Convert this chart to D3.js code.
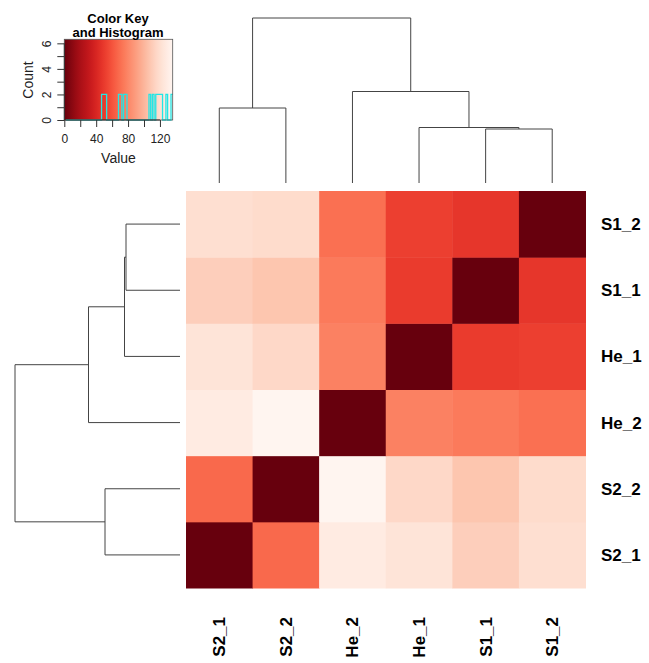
<!DOCTYPE html>
<html lang="en">
  <head>
    <meta charset="UTF-8" />
    <title>heatmap</title>
    <script src="https://d3js.org/d3.v7.min.js"></script>
    <style>
      body { margin: 0; background: #fff; }
      text { font-family: "Liberation Sans", Arial, sans-serif; }
    </style>
  </head>
  <body>
    <svg width="649" height="663"></svg>
    <script>
      // sample order as shown along the columns (rows are the reverse)
      const samples = ["S2_1", "S2_2", "He_2", "He_1", "S1_1", "S1_2"];
      const rowOrder = samples.slice().reverse();

      // distance matrix, same order as samples
      const values = [
        [0, 68, 128, 123, 111, 120],
        [68, 0, 136, 116, 107, 118],
        [128, 136, 0, 78, 75, 71],
        [123, 116, 78, 0, 50, 52],
        [111, 107, 75, 50, 0, 48],
        [120, 118, 71, 52, 48, 0]
      ];

      // hclust result: merge heights
      const clusterTree = {
        h: 165,
        children: [
          { h: 75, children: [{ name: "S2_1" }, { name: "S2_2" }] },
          {
            h: 91.5,
            children: [
              { name: "He_2" },
              {
                h: 55.5,
                children: [
                  { name: "He_1" },
                  { h: 54, children: [{ name: "S1_1" }, { name: "S1_2" }] }
                ]
              }
            ]
          }
        ]
      };

      const keyTicks = [0, 20, 40, 60, 80, 100, 120];
      const keyLabels = [0, 40, 80, 120];
      const countLabels = [0, 2, 4, 6];

      const svg = d3.select("svg");
      const allVals = values.flat();
      const vMax = d3.max(allVals);

      const color = d3.scaleSequential(d3.interpolateReds).domain([vMax, 0]);

      // heatmap
      const x = d3.scaleBand().domain(samples).range([186, 585.5]);
      const y = d3.scaleBand().domain(rowOrder).range([191, 588]);

      const cells = [];
      samples.forEach((r, i) =>
        samples.forEach((c, j) => cells.push({ row: r, col: c, v: values[i][j] }))
      );

      svg.append("g")
        .selectAll("rect")
        .data(cells)
        .enter()
        .append("rect")
        .attr("x", d => x(d.col))
        .attr("y", d => y(d.row))
        .attr("width", x.bandwidth() + 0.5)
        .attr("height", y.bandwidth() + 0.5)
        .attr("fill", d => color(d.v));

      // labels
      svg.append("g")
        .selectAll("text")
        .data(rowOrder)
        .enter()
        .append("text")
        .attr("x", 601)
        .attr("y", d => y(d) + y.bandwidth() / 2)
        .attr("dy", "0.35em")
        .attr("font-size", 17)
        .attr("font-weight", "bold")
        .text(d => d);

      svg.append("g")
        .selectAll("text")
        .data(samples)
        .enter()
        .append("text")
        .attr("transform", d => `translate(${x(d) + x.bandwidth() / 2},617) rotate(-90)`)
        .attr("dy", "0.35em")
        .attr("text-anchor", "end")
        .attr("font-size", 17)
        .attr("font-weight", "bold")
        .text(d => d);

      // dendrograms
      const root = d3.hierarchy(clusterTree);
      const leafH = 0;

      function drawDendro(posScale, hScale, vertical) {
        const pos = new Map();
        root.eachAfter(n => {
          if (!n.children) pos.set(n, posScale(n.data.name) + posScale.bandwidth() / 2);
          else pos.set(n, d3.mean(n.children, c => pos.get(c)));
        });
        const p = d3.path();
        // vertical: top dendrogram (height on y), otherwise left one (height on x)
        const moveTo = (a, h) => vertical ? p.moveTo(a, hScale(h)) : p.moveTo(hScale(h), a);
        const lineTo = (a, h) => vertical ? p.lineTo(a, hScale(h)) : p.lineTo(hScale(h), a);
        root.each(n => {
          if (!n.children) return;
          const a = pos.get(n.children[0]);
          const b = pos.get(n.children[1]);
          const ha = n.children[0].data.h || leafH;
          const hb = n.children[1].data.h || leafH;
          moveTo(a, ha);
          lineTo(a, n.data.h);
          lineTo(b, n.data.h);
          lineTo(b, hb);
        });
        svg.append("path")
          .attr("d", p.toString())
          .attr("fill", "none")
          .attr("stroke", "#444")
          .attr("stroke-width", 1);
      }

      const hTop = d3.scaleLinear().domain([0, clusterTree.h]).range([183, 18]);
      const hLeft = d3.scaleLinear().domain([0, clusterTree.h]).range([180, 15]);
      drawDendro(x, hTop, true);
      drawDendro(y, hLeft, false);

      // color key + histogram
      const kx = d3.scaleLinear().domain([0, vMax]).range([64.3, 172.7]);
      const kTop = 39.3, kBot = 120;
      const key = svg.append("g");

      const grad = svg.append("defs").append("linearGradient").attr("id", "keygrad");
      grad.selectAll("stop")
        .data(d3.range(0, 1.0001, 0.05))
        .enter()
        .append("stop")
        .attr("offset", d => d)
        .attr("stop-color", d => color(d * vMax));
      key.append("rect")
        .attr("x", kx(0))
        .attr("y", kTop)
        .attr("width", kx(vMax) - kx(0))
        .attr("height", kBot - kTop)
        .attr("fill", "url(#keygrad)");

      const bins = d3.bin()
        .domain([0, vMax])
        .thresholds(d3.range(0, vMax, vMax / 64))(allVals);
      const maxCount = d3.max(bins, b => b.length);
      const ky = d3.scaleLinear().domain([0, maxCount / 0.95]).range([kBot, kTop]);

      // step line, first bin (diagonal) left out as in the picture
      const hp = d3.path();
      bins.slice(1).forEach((b, i) => {
        if (i === 0) hp.moveTo(kx(b.x0), ky(0));
        hp.lineTo(kx(b.x0), ky(b.length));
        hp.lineTo(kx(b.x1), ky(b.length));
      });
      key.append("path")
        .attr("d", hp.toString())
        .attr("fill", "none")
        .attr("stroke", "#22e6e6")
        .attr("stroke-width", 1.3);

      key.append("rect")
        .attr("x", kx(0))
        .attr("y", kTop)
        .attr("width", kx(vMax) - kx(0))
        .attr("height", kBot - kTop)
        .attr("fill", "none")
        .attr("stroke", "#555")
        .attr("stroke-width", 0.8);

      const xAxis = d3.axisBottom(kx)
        .tickValues(keyTicks)
        .tickSize(7)
        .tickFormat(d => (keyLabels.includes(d) ? d : ""));
      const gx = key.append("g").attr("transform", `translate(0,${kBot})`).call(xAxis);
      gx.select(".domain").attr("d", `M${kx(0)},0H${kx(120)}`);
      gx.selectAll("text").attr("font-size", 12).attr("fill", "#222").attr("dy", "1.1em");
      gx.selectAll("line, .domain").attr("stroke", "#333");

      const yAxis = d3.axisLeft(ky)
        .tickValues(d3.range(0, maxCount + 1))
        .tickSize(7)
        .tickFormat(d => (countLabels.includes(d) ? d : ""));
      const gy = key.append("g").attr("transform", `translate(${kx(0)},0)`).call(yAxis);
      gy.select(".domain").attr("d", `M0,${ky(0)}V${ky(maxCount)}`);
      gy.selectAll("line, .domain").attr("stroke", "#333");
      gy.selectAll("text")
        .attr("font-size", 12)
        .attr("fill", "#222")
        .attr("x", null)
        .attr("y", null)
        .attr("dy", null)
        .attr("text-anchor", "middle")
        .attr("transform", "translate(-13,0) rotate(-90)");

      key.append("text")
        .attr("x", 118.5).attr("y", 163)
        .attr("text-anchor", "middle")
        .attr("font-size", 14)
        .attr("fill", "#222")
        .text("Value");
      key.append("text")
        .attr("transform", "translate(33,80) rotate(-90)")
        .attr("text-anchor", "middle")
        .attr("font-size", 14)
        .attr("fill", "#222")
        .text("Count");
      key.append("text")
        .attr("x", 118).attr("y", 23)
        .attr("text-anchor", "middle")
        .attr("font-size", 13)
        .attr("font-weight", "bold")
        .text("Color Key");
      key.append("text")
        .attr("x", 118).attr("y", 37)
        .attr("text-anchor", "middle")
        .attr("font-size", 13)
        .attr("font-weight", "bold")
        .text("and Histogram");
    </script>
  </body>
</html>
